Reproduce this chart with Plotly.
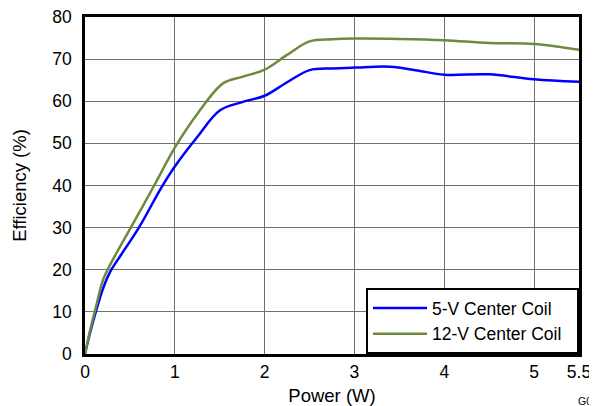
import plotly.graph_objects as go

power_5v = [0, 0.05, 0.12, 0.2, 0.28, 0.4, 0.6, 0.85, 1.0, 1.25, 1.5, 1.75, 2.0, 2.25, 2.5, 2.75, 3.0, 3.4, 3.7, 4.0, 4.5, 5.0, 5.5]
eff_5v = [0, 4.5, 10, 15.5, 19.5, 23.5, 30, 39.5, 44.5, 51.5, 57.8, 59.8, 61.3, 64.5, 67.4, 67.8, 68.0, 68.2, 67.3, 66.3, 66.4, 65.2, 64.6]

power_12v = [0, 0.05, 0.12, 0.2, 0.3, 0.51, 0.77, 1.0, 1.25, 1.54, 1.75, 2.0, 2.25, 2.5, 2.75, 3.0, 3.5, 4.0, 4.5, 5.0, 5.5]
eff_12v = [0, 5, 11, 17.5, 22, 30, 40, 49, 57, 64.3, 65.8, 67.5, 71, 74.2, 74.7, 74.9, 74.8, 74.5, 73.8, 73.6, 72.2]

series_names = ["5-V Center Coil", "12-V Center Coil"]
x_ticks = [0, 1, 2, 3, 4, 5, 5.5]
y_ticks = [0, 10, 20, 30, 40, 50, 60, 70, 80]

FONT = "Liberation Sans, Arial, sans-serif"
PAD = "\u00a0\u00a0"  # right padding inside the legend box

# page body has an 8px default margin; figure is sized/offset to compensate
W, H = 589, 398
ML, MT, MR, MB = 77, 9, 18, 52

fig = go.Figure()
fig.add_trace(go.Scatter(x=power_5v, y=eff_5v, mode="lines", name=series_names[0] + PAD,
                         line=dict(color="#0000ff", width=2.5, shape="spline", smoothing=1.0)))
fig.add_trace(go.Scatter(x=power_12v, y=eff_12v, mode="lines", name=series_names[1] + PAD,
                         line=dict(color="#6e8b3d", width=2.5, shape="spline", smoothing=1.0)))

fig.update_layout(
    width=W, height=H,
    margin=dict(l=ML, r=MR, t=MT, b=MB, autoexpand=False),
    paper_bgcolor="white", plot_bgcolor="white",
    font=dict(family=FONT, size=17.5, color="black"),
    showlegend=True,
    legend=dict(x=1, y=0, xanchor="right", yanchor="bottom",
                bgcolor="white", bordercolor="black", borderwidth=2,
                font=dict(size=17.5), itemwidth=54,
                tracegroupgap=0),
    xaxis=dict(range=[0, 5.5], tickvals=x_ticks, ticktext=[str(t) for t in x_ticks],
               showgrid=True, gridcolor="#707070", gridwidth=1,
               showline=True, linecolor="black", linewidth=2.5, mirror=True,
               ticks="", zeroline=False, automargin=False, ticklabeloverflow="allow",
               title=dict(text="Power (W)", font=dict(size=18.5), standoff=9)),
    yaxis=dict(range=[0, 80], tickvals=y_ticks, ticktext=[str(t) for t in y_ticks],
               showgrid=True, gridcolor="#707070", gridwidth=1,
               showline=True, linecolor="black", linewidth=2.5, mirror=True,
               ticks="", zeroline=False, automargin=False, ticklabelstandoff=7,
               ticklabeloverflow="allow",
               title=dict(text="Efficiency (%)", font=dict(size=18.5), standoff=21)),
    annotations=[dict(text="G00", xref="paper", yref="paper",
                      x=(576 - 8 - ML) / (W - ML - MR),
                      y=-(393 - 354) / (354 - 17),
                      xanchor="left", yanchor="top", showarrow=False,
                      font=dict(size=10.5, color="black"))],
)

fig.write_html("out.html")
